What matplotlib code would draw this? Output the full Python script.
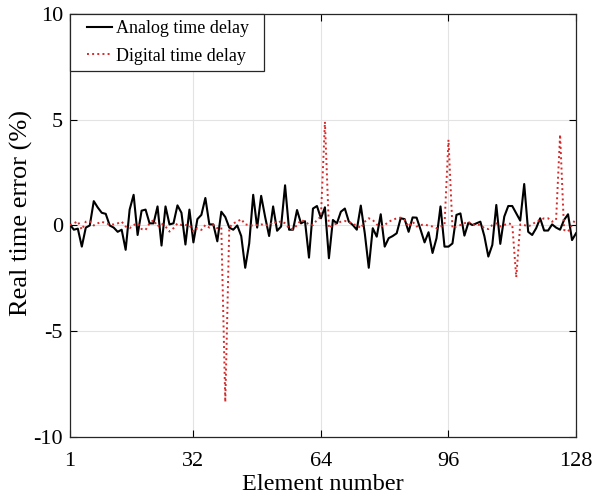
import numpy as np
import matplotlib
matplotlib.use("Agg")
import matplotlib.pyplot as plt
from matplotlib.legend_handler import HandlerLine2D

plt.rcParams['font.family'] = ['Liberation Serif', 'DejaVu Serif']
plt.rcParams['axes.unicode_minus'] = False

elements = np.arange(1, 129)

analog = [
    0.05, -0.2, -0.15, -1.0, -0.1, 0.0, 1.15, 0.85, 0.6, 0.55,
    0.0, -0.1, -0.3, -0.2, -1.15, 0.75, 1.45, -0.45, 0.7, 0.75,
    0.1, 0.1, 0.9, -0.95, 0.9, 0.05, 0.1, 0.95, 0.6, -0.9,
    0.75, -0.8, 0.3, 0.5, 1.3, 0.05, 0.05, -0.75, 0.65, 0.4,
    -0.1, -0.2, 0.0, -0.5, -2.0, -0.85, 1.45, -0.1, 1.4, 0.4,
    -0.5, 0.9, -0.25, -0.05, 1.9, -0.2, -0.2, 0.73, 0.1, 0.2,
    -1.52, 0.8, 0.92, 0.34, 0.86, -1.55, 0.26, 0.1, 0.65, 0.8,
    0.18, 0.02, -0.2, 0.94, -0.37, -2.0, -0.13, -0.53, 0.53, -1.0,
    -0.6, -0.5, -0.37, 0.34, 0.3, -0.3, 0.38, 0.37, -0.2, -0.8,
    -0.32, -1.3, -0.6, 0.9, -1.0, -1.0, -0.85, 0.5, 0.57, -0.48,
    0.13, 0.02, 0.1, 0.18, -0.5, -1.47, -0.92, 0.97, -0.87, 0.42,
    0.92, 0.92, 0.57, 0.23, 1.96, -0.3, -0.45, -0.13, 0.34, -0.24,
    -0.24, 0.05, -0.1, -0.2, 0.26, 0.53, -0.69, -0.37,
]

digital = [
    0.02, 0.1, 0.2, -0.2, 0.18, 0.2, 0.0, 0.1, 0.18, 0.1,
    0.05, 0.05, 0.1, 0.18, -0.05, -0.13, 0.02, 0.1, -0.17, -0.21,
    0.1, 0.26, -0.05, 0.1, -0.05, -0.29, -0.13, 0.1, 0.02, 0.02,
    0.02, -0.29, -0.13, -0.21, 0.02, -0.1, 0.02, -0.13, -0.1, -8.35,
    -0.1, 0.1, 0.18, 0.3, 0.05, 0.02, -0.01, 0.02, 0.05, 0.02,
    -0.01, 0.18, 0.1, 0.21, 0.1, -0.13, -0.18, 0.02, 0.26, 0.18,
    0.05, 0.02, 0.26, 0.42, 4.9, -0.13, 0.02, 0.1, 0.18, 0.21,
    0.18, 0.05, 0.02, -0.13, 0.18, 0.34, 0.26, 0.05, -0.05, 0.02,
    0.18, 0.26, 0.34, 0.37, 0.26, -0.05, 0.18, -0.05, 0.02, 0.05,
    -0.01, -0.05, -0.13, -0.05, 0.02, 4.05, -0.13, -0.05, 0.02, 0.1,
    0.18, 0.02, 0.05, 0.02, -0.13, -0.17, 0.02, 0.1, -0.05, 0.02,
    0.1, 0.05, -2.45, 0.05, 0.02, -0.05, 0.05, 0.18, 0.26, 0.34,
    0.34, 0.18, 0.26, 4.3, -0.21, -0.29, 0.02, 0.34,
]

x_ticks = [1, 32, 64, 96, 128]
y_ticks = [-10, -5, 0, 5, 10]


class OffsetLineHandler(HandlerLine2D):
    """Legend line drawn only in the right part of the handle box (MATLAB-like padding)."""
    def get_xdata(self, legend, xdescent, ydescent, width, height, fontsize):
        x0 = -xdescent + 0.3 * width
        x1 = -xdescent + width
        xd = np.array([x0, x1])
        return xd, np.array([(x0 + x1) / 2])


fig = plt.figure(figsize=(5.92, 4.98), dpi=100)
ax = fig.add_axes([0.118, 0.1225, 0.855, 0.8495])

l1, = ax.plot(elements, analog, color='black', lw=1.5, label='Analog time delay', zorder=3)
l2, = ax.plot(elements, digital, color='#d42a2a', lw=1.4, ls=':', label='Digital time delay', zorder=4)

ax.set_xlim(1, 128)
ax.set_ylim(-10, 10)
ax.set_xticks(x_ticks)
ax.set_yticks(y_ticks)
ax.grid(True, color='#e3e3e3', lw=0.8)
ax.set_axisbelow(True)
ax.tick_params(direction='in', top=True, right=True, labelsize=16, length=5, width=0.8)
ax.tick_params(axis='x', pad=10.5)
ax.tick_params(axis='y', pad=5)
for s in ax.spines.values():
    s.set_linewidth(0.9)
    s.set_color('#262626')

ax.set_xlabel('Element number', fontsize=17.5, labelpad=2.5)
ax.set_ylabel('Real time error (%)', fontsize=19, labelpad=0)
ax.yaxis.set_label_coords(-0.073, 0.53)

leg = ax.legend(handles=[l1, l2],
                labels=['Analog time delay  ', 'Digital time delay  '],
                handler_map={l1: OffsetLineHandler(), l2: OffsetLineHandler()},
                loc='upper left', fontsize=13, frameon=True, fancybox=False,
                edgecolor='#262626', framealpha=1, borderaxespad=0,
                handlelength=1.98, handletextpad=0.2, borderpad=0.36, labelspacing=0.56)
leg.get_frame().set_linewidth(0.9)

fig.savefig('out.png', dpi=100)
